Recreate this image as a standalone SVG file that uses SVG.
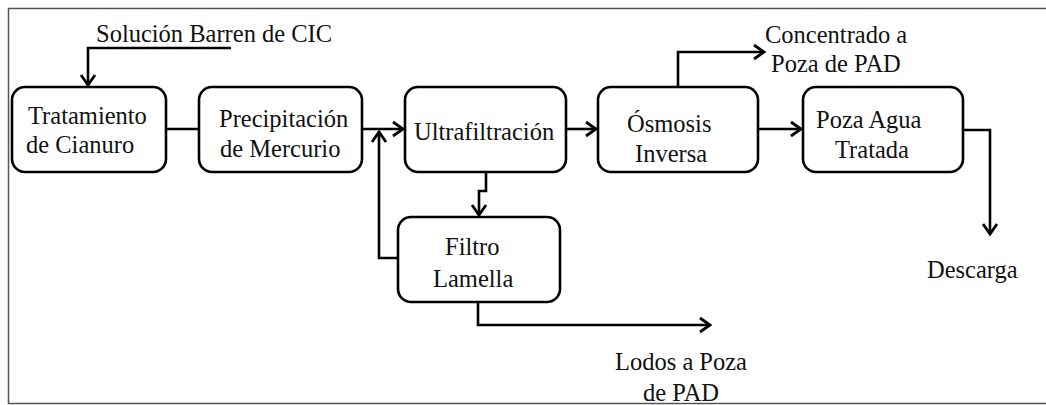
<svg xmlns="http://www.w3.org/2000/svg" width="1046" height="405" viewBox="0 0 1046 405">
  <style>
    .box { fill: #fff; stroke: #000; stroke-width: 2.6; }
    .lbl { font-family: 'Liberation Serif', 'Times New Roman', serif; font-size: 24.5px; fill: #111; }
    .flow { fill: none; stroke: #000; stroke-width: 2.6; stroke-linejoin: miter; }
    .arr { marker-end: url(#head); }
  </style>
  <defs>
    <!-- open chevron arrowhead -->
    <marker id="head" markerUnits="userSpaceOnUse" viewBox="-13 -9 16 18" markerWidth="16" markerHeight="18" refX="0" refY="0" orient="auto">
      <path d="M-10,-7 L0,0 L-10,7" fill="none" stroke="#000" stroke-width="2.8"/>
    </marker>
  </defs>

  <!-- frame -->
  <rect x="8.5" y="8.5" width="1045" height="395" fill="#fff" stroke="#555" stroke-width="1.5"/>

  <!-- connectors -->
  <g id="connectors">
    <path class="flow arr" d="M231,48 H88 V85"/>
    <path class="flow" d="M166,129 H199"/>
    <path class="flow arr" d="M362,129 H403"/>
    <path class="flow arr" d="M398,258 H379 V132"/>
    <path class="flow arr" d="M486,172 V191 H479 V215"/>
    <path class="flow arr" d="M566,129 H596"/>
    <path class="flow arr" d="M678,87 V52 H764"/>
    <path class="flow arr" d="M758,129 H801"/>
    <path class="flow arr" d="M963,130 H990 V234"/>
    <path class="flow arr" d="M478,302 V325 H710"/>
  </g>

  <!-- process nodes -->
  <g id="tratamiento">
    <rect class="box" x="12" y="87" width="154" height="85" rx="13"/>
    <text class="lbl" x="28" y="124">Tratamiento</text>
    <text class="lbl" x="26" y="153">de Cianuro</text>
  </g>
  <g id="precipitacion">
    <rect class="box" x="199" y="87" width="163" height="85" rx="13"/>
    <text class="lbl" x="219" y="127">Precipitación</text>
    <text class="lbl" x="220" y="157">de Mercurio</text>
  </g>
  <g id="ultrafiltracion">
    <rect class="box" x="405" y="87" width="161" height="85" rx="13"/>
    <text class="lbl" x="414" y="140">Ultrafiltración</text>
  </g>
  <g id="osmosis">
    <rect class="box" x="598" y="87" width="160" height="85" rx="13"/>
    <text class="lbl" x="627" y="132">Ósmosis</text>
    <text class="lbl" x="635" y="162">Inversa</text>
  </g>
  <g id="poza-agua">
    <rect class="box" x="803" y="87" width="160" height="85" rx="13"/>
    <text class="lbl" x="816" y="128">Poza Agua</text>
    <text class="lbl" x="835" y="158">Tratada</text>
  </g>
  <g id="filtro-lamella">
    <rect class="box" x="398" y="217" width="162" height="85" rx="13"/>
    <text class="lbl" x="445" y="255">Filtro</text>
    <text class="lbl" x="433" y="287">Lamella</text>
  </g>

  <!-- stream labels -->
  <g id="solucion-barren">
    <text class="lbl" x="96" y="42">Solución Barren de CIC</text>
  </g>
  <g id="concentrado">
    <text class="lbl" x="765" y="43">Concentrado a</text>
    <text class="lbl" x="771" y="72">Poza de PAD</text>
  </g>
  <g id="descarga">
    <text class="lbl" x="927" y="278">Descarga</text>
  </g>
  <g id="lodos">
    <text class="lbl" x="615" y="370">Lodos a Poza</text>
    <text class="lbl" x="643" y="401">de PAD</text>
  </g>
</svg>
